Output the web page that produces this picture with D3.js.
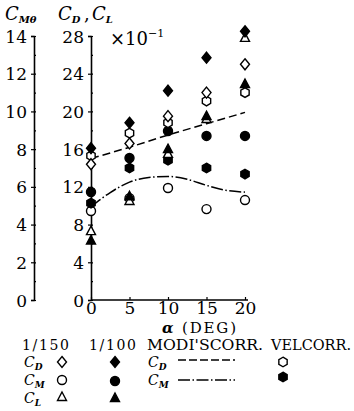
<!DOCTYPE html>
<html><head><meta charset="utf-8">
<script src="https://cdn.jsdelivr.net/npm/d3@7"></script>
<style>body{margin:0;background:#fff}svg{display:block}</style>
</head><body>
<svg id="c" width="354" height="411" style="font-family:'DejaVu Serif','Liberation Serif',serif"></svg>
<script>
const alpha = [0, 5, 10, 15, 20];
const cd150 = [14.4, 16.6, 19.5, 22.0, 25.0];
const cd100 = [16.1, 18.8, 22.2, 25.7, 28.5];
const cdVel = [15.3, 17.7, 18.8, 21.1, 22.0];
const cl150 = [7.3, 10.5, 15.5, 19.2, 27.8];
const cl100 = [6.3, 11.0, 16.0, 19.5, 22.9];
const cm150 = [4.72, 5.4, 5.94, 4.82, 5.3];
const cm100 = [5.73, 7.53, 8.96, 8.7, 8.7];
const cmVel = [5.14, 7.0, 7.42, 7.0, 6.68];
const cdModi = [15.0, 16.2, 17.5, 18.7, 19.9];
const alphaCurve = [0, 2.5, 5, 7.5, 10, 12.5, 15, 17.5, 20];
const cmModi = [4.95, 5.7, 6.25, 6.5, 6.55, 6.4, 6.08, 5.82, 5.72];
const leftTicks = [0, 2, 4, 6, 8, 10, 12, 14];
const rightTicks = [0, 4, 8, 12, 16, 20, 24, 28];
const xTicks = [0, 5, 10, 15, 20];

const FONT = "'DejaVu Serif','Liberation Serif',serif";
const svg = d3.select("#c");
const x = d3.scaleLinear().domain([0, 20]).range([91, 245]);
const yL = d3.scaleLinear().domain([0, 14]).range([300, 36]);
const yR = d3.scaleLinear().domain([0, 28]).range([300, 36]);

// axes
const gL = svg.append("g").attr("transform", "translate(34,0)")
  .call(d3.axisLeft(yL).tickValues(leftTicks).tickSize(3).tickFormat(d3.format("d")));
const gL2 = svg.append("g").attr("transform", "translate(34,0)")
  .call(d3.axisRight(yL).tickValues(d3.range(0, 15, 1)).tickSize(2).tickFormat(""));
const gR = svg.append("g").attr("transform", "translate(91,0)")
  .call(d3.axisLeft(yR).tickValues(rightTicks).tickSize(3).tickFormat(d3.format("d")));
const gR2 = svg.append("g").attr("transform", "translate(91,0)")
  .call(d3.axisRight(yR).tickValues(d3.range(0, 29, 2)).tickSize(2).tickFormat(""));
const gX = svg.append("g").attr("transform", "translate(0,300)")
  .call(d3.axisTop(x).tickValues(xTicks).tickSize(3).tickFormat(""));
const gXl = svg.append("g").attr("transform", "translate(0,300)")
  .call(d3.axisBottom(x).tickValues(xTicks).tickSize(0).tickPadding(0).tickFormat(d3.format("d")));
svg.selectAll("g").attr("font-family", null);
svg.selectAll(".domain").attr("stroke", "#000").attr("stroke-width", 1.6);
gL2.select(".domain").remove(); gR2.select(".domain").remove(); gXl.select(".domain").remove();
gX.select(".domain").attr("d", "M91,0H248");
svg.selectAll(".tick line").attr("stroke", "#000").attr("stroke-width", 1.2);
svg.selectAll(".tick text").attr("font-size", 17).style("font-family", FONT).attr("fill", "#000");
gL.selectAll(".tick text").attr("dx", -1).attr("dy", "0.36em");
gR.selectAll(".tick text").attr("dx", -1).attr("dy", "0.36em");
gXl.selectAll(".tick text").attr("y", 14).attr("dy", 0);

function txt(t, x0, y0, fs) {
  return t.append("text").attr("x", x0).attr("y", y0).attr("font-size", fs).style("font-family", FONT).attr("fill", "#000");
}
function sub(t, main, s, x0, y0, fs, sfs) {
  const tx = txt(t, x0, y0, fs || 18);
  tx.append("tspan").attr("font-style", "italic").text(main);
  tx.append("tspan").attr("font-size", sfs || 10).attr("font-style", "italic").attr("font-weight", "bold").attr("dy", 3).text(s);
  return tx;
}
sub(svg, "C", "Mθ", 5, 20);
sub(svg, "C", "D", 58, 20);
txt(svg, 84, 20, 18).text(",");
sub(svg, "C", "L", 92, 20);
const tm = txt(svg, 110, 45, 18);
tm.append("tspan").text("×10");
tm.append("tspan").attr("font-size", 11).attr("dy", -8).text("−1");
const ta = txt(svg, 162, 333, 15).attr("textLength", 74).attr("lengthAdjust", "spacing");
ta.append("tspan").attr("font-style", "italic").attr("font-weight", "bold").text("α");
ta.append("tspan").text(" (DEG)");

// markers
function shapePath(kind) {
  if (kind === "diamond") return "M0,-5.5L4.5,0L0,5.5L-4.5,0Z";
  if (kind === "triangle") return "M0,-5L4.5,3.5L-4.5,3.5Z";
  if (kind === "hexagon") { const r = 4.8; return d3.range(6).map((i) => { const a = Math.PI / 3 * i - Math.PI / 2; return (i ? "L" : "M") + (r * Math.cos(a)).toFixed(2) + "," + (r * Math.sin(a)).toFixed(2); }).join("") + "Z"; }
  return d3.symbol(d3.symbolCircle, Math.PI * 4.5 * 4.5)();
}
function marks(vals, ys, kind, filled) {
  svg.append("g").selectAll("path").data(vals).join("path")
    .attr("d", shapePath(kind))
    .attr("transform", (d, i) => `translate(${x(alpha[i])},${ys(d)})`)
    .attr("fill", filled ? "#000" : "#fff").attr("stroke", "#000").attr("stroke-width", 1.4);
}

// lines
const lineR = d3.line().x((d, i) => x(alpha[i])).y((d) => yR(d));
svg.append("path").attr("d", lineR(cdModi)).attr("fill", "none").attr("stroke", "#000")
  .attr("stroke-width", 1.5).attr("stroke-dasharray", "8,4");
const lineC = d3.line().x((d, i) => x(alphaCurve[i])).y((d) => yL(d)).curve(d3.curveMonotoneX);
svg.append("path").attr("d", lineC(cmModi)).attr("fill", "none").attr("stroke", "#000")
  .attr("stroke-width", 1.5).attr("stroke-dasharray", "12,2.5,1.5,2.5");

marks(cm150, yL, "circle", false);
marks(cmVel, yL, "hexagon", true);
marks(cm100, yL, "circle", true);
marks(cl150, yR, "triangle", false);
marks(cl100, yR, "triangle", true);
marks(cdVel, yR, "hexagon", false);
marks(cd150, yR, "diamond", false);
marks(cd100, yR, "diamond", true);

// legend
const L = svg.append("g");
txt(L, 22, 350, 14).attr("textLength", 47).text("1/150");
txt(L, 89, 350, 14).attr("textLength", 47).text("1/100");
txt(L, 147, 350, 14).attr("textLength", 116).attr("lengthAdjust", "spacingAndGlyphs").text("MODI'SCORR.");
txt(L, 271, 350, 14).attr("textLength", 80).attr("lengthAdjust", "spacingAndGlyphs").text("VELCORR.");
sub(L, "C", "D", 24, 367, 14, 9);
sub(L, "C", "M", 24, 385, 14, 9);
sub(L, "C", "L", 24, 403, 14, 9);
sub(L, "C", "D", 148, 367, 14, 9);
sub(L, "C", "M", 148, 385, 14, 9);
function lm(kind, filled, cx, cy) {
  L.append("path").attr("d", shapePath(kind)).attr("transform", `translate(${cx},${cy})`)
    .attr("fill", filled ? "#000" : "#fff").attr("stroke", "#000").attr("stroke-width", 1.4);
}
lm("diamond", false, 62, 362); lm("diamond", true, 115, 362);
lm("circle", false, 62, 380); lm("circle", true, 115, 381);
lm("triangle", false, 62, 397); lm("triangle", true, 115, 398);
lm("hexagon", false, 283, 362); lm("hexagon", true, 283, 377);
L.append("line").attr("x1", 178).attr("x2", 235).attr("y1", 360).attr("y2", 360)
  .attr("stroke", "#000").attr("stroke-width", 1.5).attr("stroke-dasharray", "8,3");
L.append("line").attr("x1", 178).attr("x2", 235).attr("y1", 380).attr("y2", 380)
  .attr("stroke", "#000").attr("stroke-width", 1.5).attr("stroke-dasharray", "12,2.5,1.5,2.5");
</script>
</body></html>
